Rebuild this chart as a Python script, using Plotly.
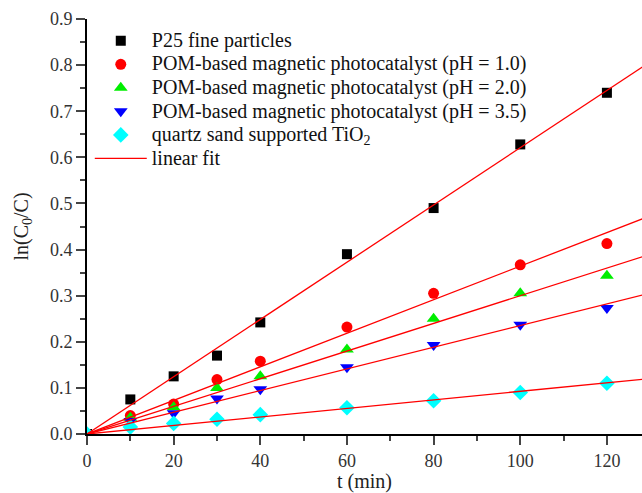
import numpy as np
import plotly.graph_objects as go

t = [0, 10, 20, 30, 40, 60, 80, 100, 120]
p25 = [0, 0.075, 0.125, 0.170, 0.242, 0.390, 0.490, 0.628, 0.740]
pom_ph10 = [0, 0.040, 0.065, 0.118, 0.158, 0.232, 0.305, 0.367, 0.413]
pom_ph20 = [0, 0.035, 0.058, 0.100, 0.125, 0.183, 0.250, 0.305, 0.343]
pom_ph35 = [0, 0.028, 0.045, 0.077, 0.097, 0.145, 0.193, 0.237, 0.273]
quartz = [0, 0.015, 0.023, 0.032, 0.042, 0.057, 0.072, 0.090, 0.110]

names = ["P25 fine particles",
         "POM-based magnetic photocatalyst (pH = 1.0)",
         "POM-based magnetic photocatalyst (pH = 2.0)",
         "POM-based magnetic photocatalyst (pH = 3.5)",
         "quartz sand supported TiO<sub>2</sub>"]
fit_name = "linear fit"
series = [p25, pom_ph10, pom_ph20, pom_ph35, quartz]
colors = ["#000000", "#ff0000", "#00ee00", "#0000ff", "#00ffff"]
symbols = ["square", "circle", "triangle-up", "triangle-down", "diamond"]
sizes = [10, 11, 12, 12, 12]

LEG = '<span style="font-size:20px">%s</span>'

x_fit_end = 135
fig = go.Figure()
for n, s, c, sym, sz in zip(names, series, colors, symbols, sizes):
    fig.add_trace(go.Scatter(x=t, y=s, mode="markers", name=LEG % n,
                             marker=dict(color=c, symbol=sym, size=sz, line=dict(width=0))))

tx = np.array(t, dtype=float)
for i, s in enumerate(series):
    sy = np.array(s, dtype=float)
    k = (tx * sy).sum() / (tx * tx).sum()
    fig.add_trace(go.Scatter(x=[0, x_fit_end], y=[0, k * x_fit_end], mode="lines",
                             line=dict(color="#ff0000", width=1.3),
                             name=LEG % fit_name, showlegend=(i == 0),
                             legendgroup="fit"))

font = "Liberation Serif, Times New Roman, serif"
fig.update_layout(
    width=642, height=493,
    margin=dict(l=87, r=0, t=19, b=59),
    paper_bgcolor="white", plot_bgcolor="white",
    font=dict(family=font, size=16, color="#222"),
    legend=dict(x=0.005, y=0.988, xanchor="left", yanchor="top",
                bgcolor="rgba(0,0,0,0)", font=dict(size=15.8, family=font, color="#111"),
                itemwidth=52, tracegroupgap=0),
    showlegend=True,
)
fig.update_xaxes(range=[0, 128.1], tickvals=[0, 20, 40, 60, 80, 100, 120],
                 ticks="outside", ticklen=9, tickwidth=1.8, showline=True,
                 linecolor="black", linewidth=2, showgrid=False, zeroline=False,
                 minor=dict(tickvals=[10, 30, 50, 70, 90, 110], ticks="outside", ticklen=5, tickwidth=1.8),
                 title=dict(text="t (min)", font=dict(size=20, family=font, color="#222"), standoff=8),
                 tickfont=dict(size=18, family=font, color="#333"))
fig.update_yaxes(range=[0, 0.9], tickvals=[0, 0.1, 0.2, 0.3, 0.4, 0.5, 0.6, 0.7, 0.8, 0.9],
                 tickformat=".1f",
                 ticks="outside", ticklen=9, tickwidth=1.8, showline=True,
                 linecolor="black", linewidth=2, showgrid=False, zeroline=False,
                 minor=dict(tickvals=[0.05, 0.15, 0.25, 0.35, 0.45, 0.55, 0.65, 0.75, 0.85], ticks="outside", ticklen=5, tickwidth=1.8),
                 title=dict(text="ln(C<sub>0</sub>/C)", font=dict(size=20, family=font, color="#222"), standoff=16),
                 tickfont=dict(size=18, family=font, color="#333"))
fig.write_html("out.html")
